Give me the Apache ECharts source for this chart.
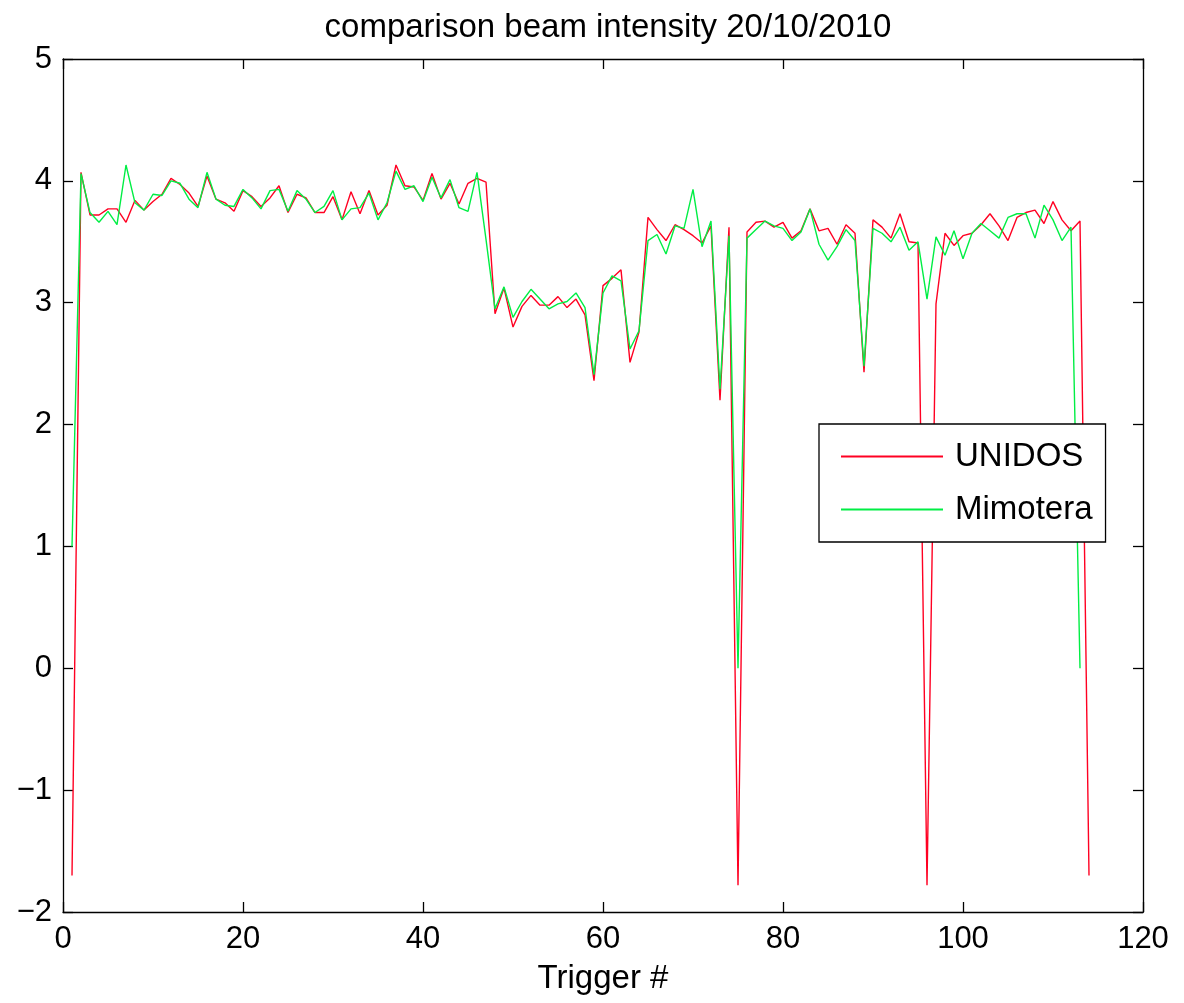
<!DOCTYPE html>
<html>
<head>
<meta charset="utf-8">
<script src="https://cdn.jsdelivr.net/npm/echarts@6/dist/echarts.min.js"></script>
<style>
html,body{margin:0;padding:0;background:#fff;}
#chart{width:1184px;height:1003px;}
</style>
</head>
<body>
<div id="chart"></div>
<script>
// Trigger numbers
const triggersUnidos = Array.from({length:114}, (_, i) => i + 1);
const triggersMimotera = Array.from({length:113}, (_, i) => i + 1);

const unidos = [
 -1.70, 4.07, 3.72, 3.72, 3.77, 3.77, 3.66, 3.84, 3.76, 3.83,
  3.89, 4.02, 3.97, 3.90, 3.79, 4.04, 3.85, 3.82, 3.75, 3.92,
  3.87, 3.79, 3.86, 3.96, 3.74, 3.89, 3.86, 3.74, 3.74, 3.87,
  3.68, 3.91, 3.73, 3.92, 3.72, 3.80, 4.13, 3.96, 3.95, 3.84,
  4.06, 3.85, 3.98, 3.81, 3.98, 4.02, 3.99, 2.91, 3.12, 2.80,
  2.97, 3.06, 2.98, 2.98, 3.05, 2.96, 3.03, 2.90, 2.36, 3.14,
  3.20, 3.27, 2.51, 2.76, 3.70, 3.60, 3.51, 3.64, 3.60, 3.55,
  3.49, 3.63, 2.20, 3.62, -1.78, 3.58, 3.66, 3.67, 3.62, 3.66,
  3.53, 3.59, 3.77, 3.59, 3.61, 3.48, 3.64, 3.57, 2.43, 3.68,
  3.62, 3.53, 3.73, 3.50, 3.49, -1.78, 2.99, 3.57, 3.47, 3.55,
  3.57, 3.64, 3.73, 3.63, 3.51, 3.70, 3.74, 3.76, 3.65, 3.83,
  3.68, 3.59, 3.67, -1.70
];

const mimotera = [
  1.00, 4.06, 3.74, 3.66, 3.75, 3.64, 4.13, 3.82, 3.76, 3.89,
  3.88, 4.00, 3.98, 3.85, 3.78, 4.07, 3.85, 3.80, 3.79, 3.93,
  3.86, 3.77, 3.92, 3.93, 3.75, 3.92, 3.85, 3.74, 3.79, 3.92,
  3.68, 3.77, 3.78, 3.90, 3.68, 3.82, 4.08, 3.93, 3.96, 3.83,
  4.03, 3.86, 4.01, 3.78, 3.75, 4.07, 3.52, 2.95, 3.13, 2.88,
  3.01, 3.11, 3.03, 2.95, 2.99, 3.01, 3.08, 2.96, 2.41, 3.08,
  3.22, 3.18, 2.62, 2.77, 3.51, 3.56, 3.40, 3.63, 3.61, 3.93,
  3.46, 3.67, 2.29, 3.55, 0.00, 3.53, 3.60, 3.67, 3.63, 3.61,
  3.51, 3.58, 3.77, 3.48, 3.35, 3.46, 3.60, 3.51, 2.48, 3.61,
  3.57, 3.50, 3.62, 3.43, 3.50, 3.03, 3.54, 3.39, 3.59, 3.36,
  3.57, 3.65, 3.59, 3.53, 3.70, 3.73, 3.73, 3.53, 3.80, 3.68,
  3.51, 3.62, 0.00
];

const seriesNames = ['UNIDOS', 'Mimotera'];
const titleText = 'comparison beam intensity 20/10/2010';
const xLabel = 'Trigger #';

const FONT = '"Liberation Sans", Arial, Helvetica, sans-serif';
const chart = echarts.init(document.getElementById('chart'));

const axisLine = {show: true, onZero: false, lineStyle: {color: '#000', width: 1.3}};
const tickIn = {show: true, inside: true, length: 10, lineStyle: {color: '#000', width: 1.3}};
const minus = v => (v < 0 ? '\u2212' + Math.abs(v) : String(v));

chart.setOption({
  animation: false,
  backgroundColor: '#fff',
  title: {
    text: titleText,
    left: 603,
    top: 6,
    textAlign: 'center',
    textStyle: {fontFamily: FONT, fontSize: 33, fontWeight: 'normal', color: '#000'}
  },
  grid: {left: 63, right: 41, top: 59, bottom: 91, containLabel: false},
  xAxis: [
    {
      type: 'value', min: 0, max: 120, interval: 20, position: 'bottom',
      name: xLabel, nameLocation: 'middle', nameGap: 50,
      nameTextStyle: {fontFamily: FONT, fontSize: 33, color: '#000'},
      axisLine: axisLine, axisTick: tickIn,
      axisLabel: {fontFamily: FONT, fontSize: 31, color: '#000', margin: 12},
      splitLine: {show: false}
    },
    {
      type: 'value', min: 0, max: 120, interval: 20, position: 'top',
      axisLine: axisLine, axisTick: tickIn, axisLabel: {show: false}, splitLine: {show: false}
    }
  ],
  yAxis: [
    {
      type: 'value', min: -2, max: 5, interval: 1, position: 'left',
      axisLine: axisLine, axisTick: tickIn,
      axisLabel: {fontFamily: FONT, fontSize: 31, color: '#000', margin: 11, formatter: minus},
      splitLine: {show: false}
    },
    {
      type: 'value', min: -2, max: 5, interval: 1, position: 'right',
      axisLine: axisLine, axisTick: tickIn, axisLabel: {show: false}, splitLine: {show: false}
    }
  ],
  legend: {
    orient: 'vertical',
    left: 819, top: 424,
    padding: [16, 13, 16, 21],
    itemWidth: 102, itemHeight: 36, itemGap: 20,
    backgroundColor: '#fff',
    borderColor: '#000', borderWidth: 1.3,
    itemStyle: {opacity: 0},
    textStyle: {fontFamily: FONT, fontSize: 33, color: '#000', padding: [0, 0, 0, 7]},
    data: seriesNames
  },
  series: [
    {
      name: seriesNames[0], type: 'line', symbol: 'none', z: 2,
      lineStyle: {color: '#ff0022', width: 1.4}, itemStyle: {color: '#ff0022'},
      data: triggersUnidos.map((x, i) => [x, unidos[i]])
    },
    {
      name: seriesNames[1], type: 'line', symbol: 'none', z: 3,
      lineStyle: {color: '#00ee44', width: 1.4}, itemStyle: {color: '#00ee44'},
      data: triggersMimotera.map((x, i) => [x, mimotera[i]])
    }
  ]
});
</script>
</body>
</html>
